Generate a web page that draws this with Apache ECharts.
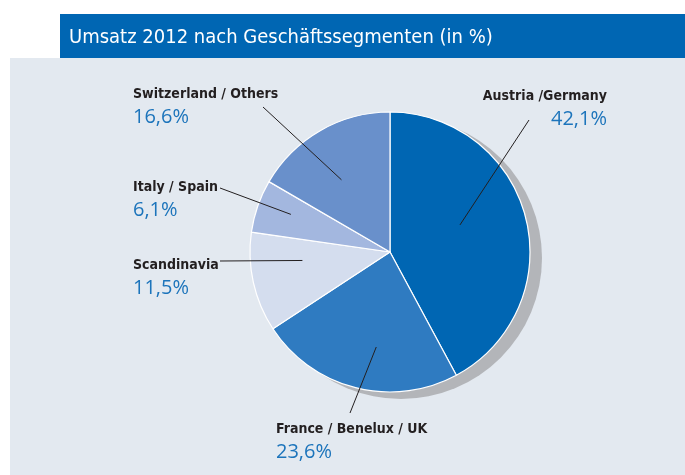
<!DOCTYPE html>
<html>
<head>
<meta charset="utf-8">
<script src="https://cdn.jsdelivr.net/npm/echarts@6/dist/echarts.min.js"></script>
<style>
  html, body { margin: 0; padding: 0; background: #fff; }
  #chart { width: 685px; height: 475px; }
</style>
</head>
<body>
<div id="chart"></div>
<script>
// data
var segments = ["Austria /Germany", "France / Benelux / UK", "Scandinavia", "Italy / Spain", "Switzerland / Others"];
var shares = [42.1, 23.6, 11.5, 6.1, 16.6];
var sliceColors = ["#0066b3", "#2f7bc1", "#d4ddee", "#a3b7df", "#6990cb"];

// layout of the labels (not data)
var cx = 390, cy = 252, R = 140;
var labelPos = [
  { x: 607, y: 85, align: "right" },
  { x: 276, y: 418, align: "left" },
  { x: 133, y: 254, align: "left" },
  { x: 133, y: 176, align: "left" },
  { x: 133, y: 83, align: "left" }
];
var lineEnds = [[529, 120], [350, 413], [220, 261], [220, 188], [263, 107]];
var innerDist = [75, 96, 88, 106, 87];
var angleShift = [-7, -6, 7, 1.6, -4]; // degrees

var condensed = "'DejaVu Sans Condensed', 'DejaVu Sans', sans-serif";

var chart = echarts.init(document.getElementById("chart"));

var total = shares.reduce(function (a, b) { return a + b; }, 0);
var graphics = [
  { type: "rect", left: 10, top: 58, silent: true, z: -10, shape: { width: 675, height: 417 }, style: { fill: "#e3e9f0" } },
  { type: "rect", left: 60, top: 14, silent: true, z: -10, shape: { width: 625, height: 44 }, style: { fill: "#0066b3" } }
];
// label lines from inside each slice out to its label
var acc = 0;
shares.forEach(function (v, i) {
  var mid = (acc + v / 2) / total * Math.PI * 2 + angleShift[i] * Math.PI / 180;
  acc += v;
  var px = cx + innerDist[i] * Math.sin(mid);
  var py = cy - innerDist[i] * Math.cos(mid);
  graphics.push({
    type: "polyline", silent: true, z: 100,
    shape: { points: [[px, py], lineEnds[i]] },
    style: { stroke: "#231f20", lineWidth: 1, fill: null }
  });
});

var option = {
  backgroundColor: "#fff",
  animation: false,
  title: {
    text: "Umsatz 2012 nach Geschäftssegmenten (in %)",
    left: 64,
    top: 23,
    textStyle: { color: "#fff", fontSize: 20, fontWeight: "normal", fontFamily: condensed }
  },
  graphic: graphics,
  series: [
    {
      // flat grey shadow under the pie
      type: "pie",
      silent: true,
      center: [cx + 11, cy + 6],
      radius: R + 1,
      label: { show: false },
      labelLine: { show: false },
      itemStyle: { color: "#b3b5b9" },
      data: [{ value: 1, name: "" }],
      z: 1
    },
    {
      type: "pie",
      center: [cx, cy],
      radius: R,
      startAngle: 90,
      clockwise: true,
      z: 2,
      itemStyle: { borderColor: "#fff", borderWidth: 1.2 },
      labelLine: { show: false },
      label: {
        show: true,
        position: "outside",
        overflow: "none",
        formatter: function (p) {
          return "{n|" + p.name + "}\n{v|" + p.value.toFixed(1).replace(".", ",") + "%}";
        },
        rich: {
          n: { fontSize: 14, fontFamily: condensed, fontWeight: "bold", color: "#231f20", lineHeight: 22 },
          v: { fontSize: 20, fontFamily: "Open Sans", color: "#1c74bb", lineHeight: 24 }
        }
      },
      labelLayout: function (p) {
        var lp = labelPos[p.dataIndex];
        return { x: lp.x, y: lp.y, align: lp.align, verticalAlign: "top", width: 200 };
      },
      data: segments.map(function (s, i) {
        return { name: s, value: shares[i], itemStyle: { color: sliceColors[i] } };
      })
    }
  ]
};
chart.setOption(option);
</script>
</body>
</html>
